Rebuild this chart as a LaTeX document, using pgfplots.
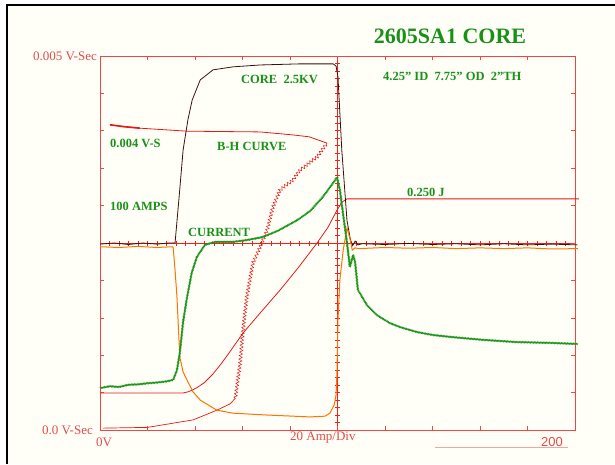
\documentclass[border=0pt]{standalone}
\usepackage{pgfplots}
\pgfplotsset{compat=1.18}
\usepackage{fontspec}
\setmainfont{Liberation Serif}
\newfontfamily\sansf{Liberation Sans}
\usetikzlibrary{decorations.pathmorphing}

\definecolor{cream}{RGB}{255,255,247}
\definecolor{framecol}{RGB}{238,70,70}
\definecolor{gridred}{RGB}{235,35,35}
\definecolor{textred}{RGB}{228,75,75}
\definecolor{labgreen}{RGB}{25,145,25}
\definecolor{coregreen}{RGB}{30,150,30}
\definecolor{darkbrown}{RGB}{60,15,10}
\definecolor{trorange}{RGB}{255,115,0}
\definecolor{curvered}{RGB}{230,25,25}
\newcommand\dq{\char"22\relax}

\begin{document}
\begin{tikzpicture}
  \useasboundingbox (0pt,0pt) rectangle (615pt,464pt);
  \fill[white] (0pt,0pt) rectangle (615pt,464pt);
  \fill[cream] (7pt,0pt) rectangle (615pt,459pt);
  \draw[black, line width=2pt] (7pt,0pt) -- (7pt,459pt) -- (616pt,459pt);

  % graticule centre lines (x = 100 + 47.5 X, y = 34 + 37.4 Y)
  \draw[gridred, line width=0.8pt] (100pt,221pt) -- (575pt,221pt);
  \draw[gridred, line width=0.8pt] (337.5pt,34pt) -- (337.5pt,408pt);
  \foreach \i in {1,...,49} {
    \draw[gridred, line width=0.6pt] ({100pt+9.5pt*\i},218.5pt) -- ++(0pt,5pt);
    \draw[gridred, line width=0.6pt] (335pt,{34pt+7.48pt*\i}) -- ++(5pt,0pt);
  }

  \begin{axis}[
      at={(100pt,34pt)}, anchor=south west,
      scale only axis, width=475pt, height=374pt,
      xmin=0, xmax=10, ymin=0, ymax=10,
      axis line style={framecol, line width=0.8pt},
      xtick={1,...,9}, ytick={1,...,9},
      xticklabels={}, yticklabels={},
      tick align=inside, major tick length=4pt,
      tick style={framecol, line width=0.6pt},
      clip=false
    ]
    % B-H curve, lower branch
    \addplot[curvered, line width=0.7pt, no markers] coordinates {
      (0.06,0.05) (1.0,0.07) (1.96,0.27) (2.25,0.42) (2.46,0.53) (2.74,0.70) (2.85,0.85)
    };
    % B-H curve, noisy rise
    \addplot[curvered, line width=0.5pt, no markers, decorate,
      decoration={zigzag, amplitude=1.6pt, segment length=3.5pt}] coordinates {
      (2.85,0.85) (2.95,1.79) (3.01,2.67) (3.09,3.56) (3.22,4.47) (3.37,4.89)
      (3.52,5.35) (3.64,5.96) (3.79,6.42) (4.06,6.68) (4.21,6.95) (4.57,7.30) (4.78,7.67)
    };
    % B-H curve, upper branch
    \addplot[curvered, line width=0.8pt, no markers] coordinates {
      (4.78,7.67) (4.4,7.84) (4.06,7.89) (3.37,7.97) (1.83,7.99) (0.84,8.07) (0.21,8.16)
    };
    \addplot[curvered, line width=1.6pt, no markers] coordinates {
      (0.21,8.16) (0.5,8.11) (0.84,8.07)
    };
    % energy
    \addplot[curvered, line width=0.8pt, no markers] coordinates {
      (0,0.99) (1.75,0.99) (1.85,1.02) (1.95,1.07) (2.05,1.14) (2.2,1.27)
      (2.38,1.50) (2.55,1.77) (2.7,2.03) (3.01,2.59) (3.4,3.17)
      (3.79,3.74) (4.18,4.35) (4.57,5.0) (4.8,5.42) (4.99,5.88) (5.1,6.1) (5.2,6.18) (10.08,6.18)
    };
    % core voltage
    \addplot[darkbrown, line width=0.8pt, no markers] coordinates {
      (0,4.97) (0.3,5.0) (0.6,4.96) (0.9,5.0) (1.2,4.97) (1.45,5.0) (1.58,5.0)
      (1.66,6.15) (1.75,7.49) (1.85,8.29) (1.94,8.82) (2.11,9.36) (2.38,9.63)
      (2.8,9.71) (3.37,9.76) (4.21,9.79) (4.91,9.79) (4.97,9.73) (5.01,9.44)
      (5.09,7.49) (5.2,5.6) (5.27,5.1) (5.32,4.93) (5.37,5.05) (5.43,4.95)
      (5.52,4.98) (6,4.96) (6.5,4.99) (7,4.96) (7.5,4.98) (8,4.95) (8.5,4.98)
      (9,4.95) (9.5,4.97) (10.05,4.95)
    };
    % orange trace
    \addplot[trorange, line width=1pt, no markers] coordinates {
      (0,4.90) (0.4,4.88) (0.8,4.91) (1.2,4.88) (1.52,4.90) (1.54,4.89) (1.58,4.28)
      (1.62,3.56) (1.68,1.95) (1.75,1.55) (1.83,1.34) (1.96,1.02) (2.11,0.80)
      (2.46,0.53) (2.8,0.45) (3.52,0.40) (4.42,0.35) (4.74,0.37) (4.84,0.45)
      (4.93,0.67) (4.97,0.94) (4.99,1.60) (5.01,2.94) (5.05,4.01) (5.12,4.81)
      (5.2,5.40) (5.26,5.13) (5.31,4.81) (5.37,4.87) (5.45,4.85) (6,4.88)
      (6.5,4.86) (7,4.88) (7.5,4.85) (8,4.87) (8.5,4.85) (9,4.87) (9.5,4.84) (10.06,4.85)
    };
    % current
    \addplot[coregreen, line width=1pt, no markers, decorate,
      decoration={zigzag, amplitude=0.5pt, segment length=1.5pt}] coordinates {
      (0,1.12) (0.2,1.17) (0.4,1.15) (0.6,1.21) (0.8,1.22) (1.0,1.25) (1.2,1.27)
      (1.4,1.30) (1.54,1.34) (1.62,1.60) (1.68,2.06) (1.75,2.9) (1.83,3.53)
      (1.93,4.2) (2.04,4.63) (2.21,4.95) (2.42,5.03) (2.8,5.03) (3.1,5.08)
      (3.43,5.16) (3.75,5.33) (4.15,5.61) (4.42,5.85) (4.69,6.23) (4.95,6.68)
      (4.99,6.76) (5.05,6.42) (5.12,5.75) (5.2,5.0) (5.26,4.36) (5.33,4.68)
      (5.37,4.49) (5.43,3.74) (5.47,3.66) (5.62,3.34) (5.83,3.07) (6.1,2.86)
      (6.32,2.75) (6.67,2.62) (7.01,2.54) (7.37,2.49) (8.06,2.41) (8.78,2.35)
      (9.47,2.33) (10.06,2.30)
    };
  \end{axis}

  % titles and labels
  \node[labgreen, font=\fontsize{22}{24}\selectfont\bfseries] at (450pt,427.5pt) {2605SA1 CORE};
  \begin{scope}[every node/.style={labgreen, anchor=west, inner sep=0pt,
      font=\fontsize{12.5}{14}\selectfont\bfseries}]
    \node at (241pt,385pt) {CORE\ \ 2.5KV};
    \node at (383pt,388pt) {4.25\dq{} ID\ \ 7.75\dq{} OD\ \ 2\dq{}TH};
    \node at (110pt,321pt) {0.004 V-S};
    \node at (217pt,318pt) {B-H CURVE};
    \node at (110pt,258pt) {100 AMPS};
    \node at (188pt,232pt) {CURRENT};
    \node at (407pt,272pt) {0.250 J};
  \end{scope}
  \begin{scope}[every node/.style={textred, inner sep=0pt,
      font=\fontsize{13}{15}\selectfont}]
    \node[anchor=east] at (97pt,408pt) {0.005 V-Sec};
    \node[anchor=east] at (93pt,34pt) {0.0 V-Sec};
    \node[anchor=west] at (96pt,22pt) {0V};
    \node[anchor=west] at (290pt,26pt) {20 Amp/Div};
    \node[anchor=west, font=\fontsize{13}{15}\selectfont\sansf] at (541pt,22pt) {200};
  \end{scope}
  \draw[textred!50, line width=0.5pt] (435pt,17pt) -- (568pt,17pt);
\end{tikzpicture}
\end{document}
